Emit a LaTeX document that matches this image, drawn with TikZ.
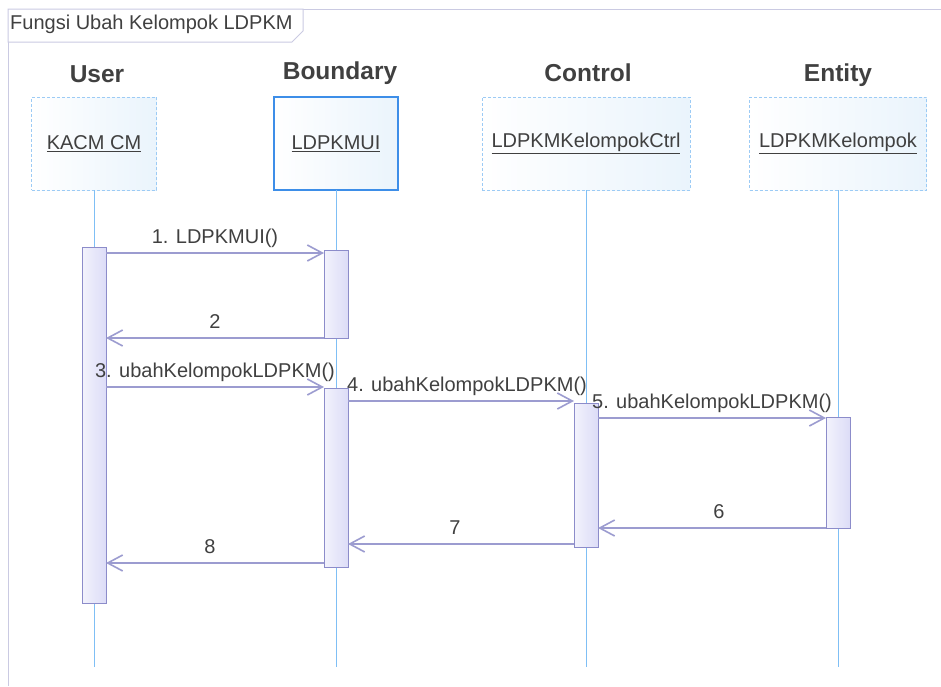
\documentclass[tikz,border=0pt]{standalone}
\usepackage{fontspec}
\setmainfont{Liberation Sans}
\usetikzlibrary{arrows.meta}
\definecolor{SDFrame}{HTML}{CACAE2}
\definecolor{SDText}{HTML}{404040}
\definecolor{SDLife}{HTML}{7FBFF5}
\definecolor{SDBox}{HTML}{9CCBF5}
\definecolor{SDBoxUI}{HTML}{3D8EE8}
\definecolor{SDBoxFill}{HTML}{EAF4FC}
\definecolor{SDAct}{HTML}{8C8CCA}
\definecolor{SDActFill}{HTML}{DCDCF7}
\definecolor{SDMsg}{HTML}{9C9CD0}

\tikzset{
  objbox/.style={draw=SDBox, line width=1pt, densely dashed, left color=white, right color=SDBoxFill,
    minimum height=93, inner sep=0pt, outer sep=0pt, text=SDText, font=\fontsize{20}{22}\selectfont},
  actbar/.style={draw=SDAct, line width=1pt, left color=SDActFill!35, right color=SDActFill,
    minimum width=24, inner sep=0pt, outer sep=0pt},
  hdr/.style={anchor=base, text=SDText, font=\fontsize{24.5}{26}\selectfont\bfseries},
  msg/.style={draw=SDMsg, line width=1.6pt, -{Straight Barb[length=15pt,width=16pt]}},
  msglbl/.style={midway, anchor=base, yshift=10pt, text=SDText, inner sep=0pt, font=\fontsize{20}{22}\selectfont},
  lifeline/.style={draw=SDLife, line width=0.8pt}
}

\begin{document}
\begin{tikzpicture}[x=1pt,y=-1pt]
\useasboundingbox (0,0) rectangle (941,686);
% frame and title tab
\draw[SDFrame, line width=1pt] (8,686) -- (8,9) -- (941,9);
\draw[SDFrame, line width=1pt, fill=white] (8,9) -- (303,9) -- (303,31) -- (292,42) -- (8,42) -- cycle;
\node[anchor=base west, text=SDText, inner sep=0pt, font=\fontsize{20}{22}\selectfont] (title) at (10,29) {Fungsi Ubah Kelompok LDPKM};

% headers
\node[hdr] (hUser) at (97,82) {User};
\node[hdr] (hBoundary) at (340,79) {Boundary};
\node[hdr] (hControl) at (588,81) {Control};
\node[hdr] (hEntity) at (838,81) {Entity};

% objects
\node[objbox, minimum width=125] (user) at (94,143.5) {\underline{KACM CM}};
\node[objbox, minimum width=124, draw=SDBoxUI, solid, line width=1.3pt] (ui) at (336,143.5) {\underline{LDPKMUI}};
\node[objbox, minimum width=208] (ctrl) at (586,143.5) {\underline{LDPKMKelompokCtrl}};
\node[objbox, minimum width=177] (ent) at (838,143.5) {\underline{LDPKMKelompok}};

% lifelines
\coordinate (userEnd) at (94,667);
\coordinate (uiEnd) at (336,667);
\coordinate (ctrlEnd) at (586,667);
\coordinate (entEnd) at (838,667);
\draw[lifeline] (user.south) -- (userEnd);
\draw[lifeline] (ui.south) -- (uiEnd);
\draw[lifeline] (ctrl.south) -- (ctrlEnd);
\draw[lifeline] (ent.south) -- (entEnd);

% activations
\node[actbar, minimum height=356] (userAct) at (94,425) {};
\node[actbar, minimum height=88] (uiAct1) at (336,294) {};
\node[actbar, minimum height=179] (uiAct2) at (336,477.5) {};
\node[actbar, minimum height=144] (ctrlAct) at (586,475) {};
\node[actbar, minimum height=111] (entAct) at (838,472.5) {};

% messages
\draw[msg] (userAct.east |- 0,253) -- (uiAct1.west |- 0,253) node[msglbl] {1. LDPKMUI()};
\draw[msg] (uiAct1.west |- 0,338) -- (userAct.east |- 0,338) node[msglbl] {2};
\draw[msg] (userAct.east |- 0,387) -- (uiAct2.west |- 0,387) node[msglbl] {3. ubahKelompokLDPKM()};
\draw[msg] (uiAct2.east |- 0,401) -- (ctrlAct.west |- 0,401) node[msglbl, xshift=6pt] {4. ubahKelompokLDPKM()};
\draw[msg] (ctrlAct.east |- 0,418) -- (entAct.west |- 0,418) node[msglbl] {5. ubahKelompokLDPKM()};
\draw[msg] (entAct.west |- 0,528) -- (ctrlAct.east |- 0,528) node[msglbl, xshift=7pt] {6};
\draw[msg] (ctrlAct.west |- 0,544) -- (uiAct2.east |- 0,544) node[msglbl, xshift=-6pt] {7};
\draw[msg] (uiAct2.west |- 0,563) -- (userAct.east |- 0,563) node[msglbl, xshift=-5pt] {8};
\end{tikzpicture}
\end{document}
